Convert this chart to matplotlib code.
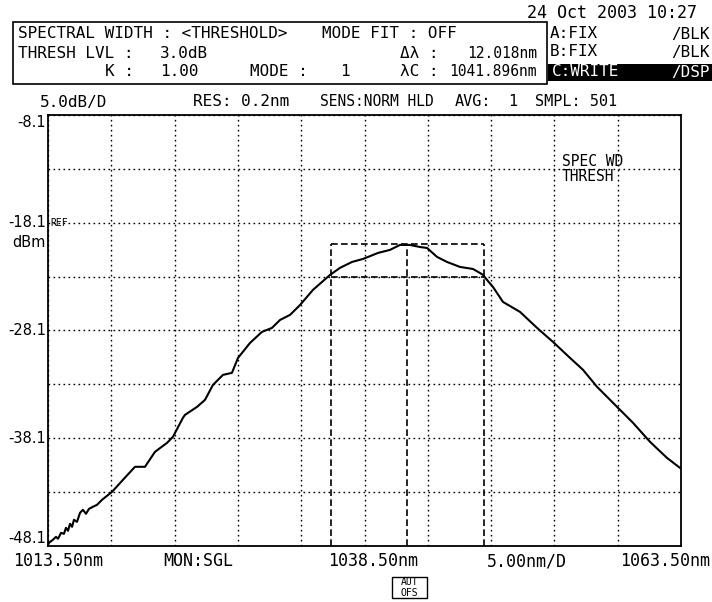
import matplotlib
matplotlib.use("Agg")
import matplotlib.pyplot as plt
from matplotlib.patches import Rectangle
import matplotlib.transforms as mtransforms

# spectrum trace (wavelength in nm, level in dBm)
wavelength = [1013.50, 1013.58, 1013.89, 1014.13, 1014.29, 1014.53, 1014.76, 1014.92,
              1015.08, 1015.24, 1015.40, 1015.55, 1015.79, 1016.03, 1016.26, 1016.50,
              1016.74, 1017.05, 1017.37, 1017.77, 1018.56, 1019.42, 1020.37, 1021.16,
              1021.95, 1022.90, 1023.37, 1024.16, 1024.32, 1025.27, 1025.90, 1026.53,
              1027.32, 1028.03, 1028.51, 1029.46, 1030.40, 1031.19, 1031.83, 1032.62,
              1033.41, 1034.43, 1035.78, 1036.56, 1037.51, 1038.38, 1039.57, 1040.51,
              1041.30, 1042.09, 1042.88, 1043.44, 1044.23, 1045.02, 1046.04, 1047.07,
              1047.62, 1047.86, 1048.18, 1048.65, 1049.44, 1050.78, 1052.13, 1053.39,
              1054.73, 1055.76, 1056.87, 1058.45, 1059.71, 1061.05, 1062.39, 1063.42]
level = [-48.00, -47.80, -47.52, -47.25, -47.43, -46.88, -46.97, -46.41,
         -46.69, -46.04, -46.32, -45.67, -45.86, -45.02, -44.74, -45.11,
         -44.65, -44.46, -44.28, -43.81, -43.07, -41.96, -40.75, -40.75,
         -39.36, -38.53, -37.97, -36.20, -35.93, -35.19, -34.54, -33.15,
         -32.22, -32.03, -30.64, -29.25, -28.23, -27.86, -27.12, -26.65,
         -25.73, -24.33, -22.94, -22.29, -21.74, -21.46, -20.90, -20.62,
         -20.16, -20.16, -20.35, -20.44, -21.27, -21.74, -22.20, -22.39,
         -22.76, -22.94, -23.41, -24.06, -25.45, -26.37, -27.86, -29.16,
         -30.64, -31.75, -33.33, -35.19, -36.67, -38.43, -39.92, -40.85]

# spectral width analysis result
peak_level = -20.1
thresh_db = 3.0
center_nm = 1041.896
width_nm = 12.018

x_start, x_stop, x_div = 1013.5, 1063.5, 5.0
y_top, y_div, n_ydiv = -8.1, 5.0, 8
y_labels = [-8.1, -18.1, -28.1, -38.1, -48.1]

W, H = 712, 602
fig = plt.figure(figsize=(W / 100, H / 100), dpi=100)
fig.patch.set_facecolor("white")
mono = "DejaVu Sans Mono"


def put(x, y, s, size=11.5, ha="left", **kw):
    return fig.text(x / W, 1 - y / H, s, fontsize=size, ha=ha, va="center",
                    family=mono, **kw)


y_bottom = y_top - y_div * n_ydiv
ax = fig.add_axes([48 / W, 1 - 546 / H, 633 / W, 431 / H])
ax.set_xlim(x_start, x_stop)
ax.set_ylim(y_bottom, y_top)
ax.set_xticks([x_start + i * x_div for i in range(11)])
ax.set_yticks([y_bottom + i * y_div for i in range(n_ydiv + 1)])
ax.tick_params(length=0, labelbottom=False, labelleft=False)
ax.grid(True, color="black", linestyle=(0, (1.2, 2.4)), linewidth=1.0)
for sp in ax.spines.values():
    sp.set_linewidth(1.3)
    sp.set_color("black")

ax.plot(wavelength, level, color="black", linewidth=1.5, zorder=5)

# threshold markers
left_nm = center_nm - width_nm / 2
right_nm = center_nm + width_nm / 2
thr = peak_level - thresh_db
dash = dict(color="black", linestyle=(0, (4, 2)), linewidth=1.2, zorder=4)
ax.hlines([peak_level, thr], left_nm, right_nm, **dash)
ax.vlines([left_nm, center_nm, right_nm], y_bottom, peak_level, **dash)

# level scale on the left
trans = mtransforms.blended_transform_factory(fig.transFigure, ax.transData)
for v in y_labels:
    va = "top" if v == y_top else ("bottom" if v == y_bottom else "center")
    ax.text(46 / W, v, f"{v:.1f}", transform=trans, ha="right", va=va,
            fontsize=10.5, family="DejaVu Sans")
ax.text(46 / W, -18.1 - 1.8, "dBm", transform=trans, ha="right", va="center",
        fontsize=10.5, family="DejaVu Sans")
ax.text(50 / W, -18.1, "REF", transform=trans, ha="left", va="center",
        fontsize=7, family=mono)
ax.text(1054.1, -13.1, "SPEC WD", ha="left", va="bottom", fontsize=10.5, family=mono)
ax.text(1054.1, -13.1, "THRESH", ha="left", va="top", fontsize=10.5, family=mono)

# header block
fig.add_artist(Rectangle((13 / W, 1 - 84 / H), (547 - 13) / W, (84 - 22) / H,
                         transform=fig.transFigure, fill=False, ec="black", lw=1.2))
put(697, 13, "24 Oct 2003 10:27", ha="right", size=12)
put(18, 34, "SPECTRAL WIDTH : <THRESHOLD>")
put(322, 34, "MODE FIT : OFF")
put(18, 53, "THRESH LVL :")
put(160, 53, f"{thresh_db:.1f}dB")
put(400, 53, "Δλ :")
put(537, 53, f"{width_nm:.3f}nm", ha="right", size=10.5)
put(105, 71, "K :")
put(160, 71, "1.00")
put(250, 71, "MODE :")
put(340, 71, "1")
put(400, 71, "λC :")
put(537, 71, f"{center_nm:.3f}nm", ha="right", size=10.5)

# trace status panel
put(550, 34, "A:FIX")
put(710, 34, "/BLK", ha="right")
put(550, 52, "B:FIX")
put(710, 52, "/BLK", ha="right")
fig.add_artist(Rectangle((548 / W, 1 - 81 / H), (712 - 548) / W, 17 / H,
                         transform=fig.transFigure, color="black", lw=0))
put(552, 72, "C:WRITE", color="white")
put(710, 72, "/DSP", ha="right", color="white")

# measurement conditions row
put(40, 102, "5.0dB/D")
put(193, 102, "RES: 0.2nm")
put(320, 102, "SENS:NORM HLD", size=10.5)
put(455, 102, "AVG:", size=11)
put(508, 102, "1", size=11)
put(535, 102, "SMPL: 501", size=11)

# wavelength scale row
put(13, 561, f"{x_start:.2f}nm", size=12)
put(163, 561, "MON:SGL", size=12)
put(373, 561, f"{(x_start + x_stop) / 2:.2f}nm", ha="center", size=12)
put(487, 561, f"{x_div:.2f}nm/D", size=12)
put(710, 561, f"{x_stop:.2f}nm", ha="right", size=12)
fig.add_artist(Rectangle((392 / W, 1 - 598 / H), 35 / W, 21 / H,
                         transform=fig.transFigure, fill=False, ec="black", lw=1.0))
put(409.5, 582, "AUT", size=7, ha="center")
put(409.5, 593, "OFS", size=7, ha="center")

fig.savefig("out.png", dpi=100)
